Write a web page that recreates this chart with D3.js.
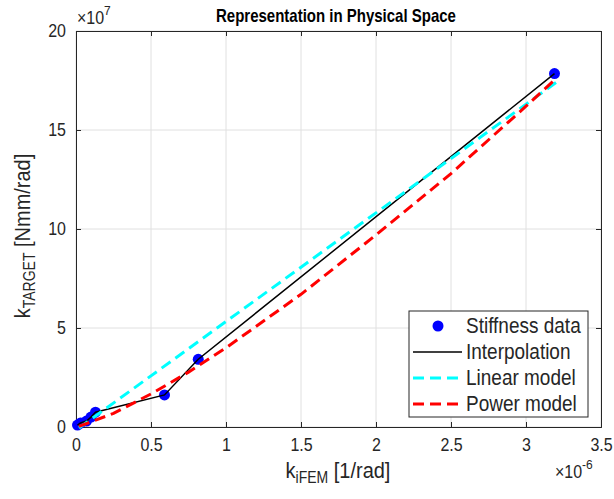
<!DOCTYPE html>
<html lang="en">
<head>
<meta charset="UTF-8">
<title>Representation in Physical Space</title>
<script src="https://d3js.org/d3.v7.min.js"></script>
<style>
  body { margin: 0; background: #fff; }
  text { font-family: "Liberation Sans", Arial, sans-serif; fill: #262626; }
  /* the figure was stretched a bit vertically, so text is taller than wide */
  .tall { transform-box: fill-box; transform-origin: center; transform: scaleY(1.12); }
  .tallt { transform-box: fill-box; transform-origin: center; transform: scaleY(1.22); }
  .tallx { transform-box: fill-box; transform-origin: center; transform: scaleX(1.12); }
</style>
</head>
<body>
<script>
// data (x in 1e-6 1/rad, y in 1e7 Nmm/rad)
var dataX = [0.01, 0.03, 0.07, 0.10, 0.13, 0.59, 0.815, 3.19];
var dataY = [0.10, 0.20, 0.30, 0.50, 0.75, 1.62, 3.42, 17.85];
var linX = [0.02, 3.2];
var linY = [-0.05, 17.4];
var powX = [0.02, 0.25, 0.5, 0.75, 1.0, 1.5, 2.0, 2.5, 3.0, 3.2];
var powY = [0.03, 0.69, 1.67, 2.77, 4.0, 6.7, 9.7, 12.8, 16.2, 17.6];
var xTicks = [0, 0.5, 1, 1.5, 2, 2.5, 3, 3.5];
var yTicks = [0, 5, 10, 15, 20];
var legNames = ['Stiffness data', 'Interpolation', 'Linear model', 'Power model'];

var width = 614, height = 499;
var pL = 76, pR = 601, pT = 31, pB = 427;

var svg = d3.select('body').append('svg').attr('width', width).attr('height', height);

var x = d3.scaleLinear().domain([0, 3.5]).range([pL, pR]);
var y = d3.scaleLinear().domain([0, 20]).range([pB, pT]);

// grid
svg.append('g').selectAll('line').data(xTicks).join('line')
    .attr('x1', d => x(d)).attr('x2', d => x(d)).attr('y1', pT).attr('y2', pB)
    .attr('stroke', '#e0e0e0').attr('stroke-width', 1);
svg.append('g').selectAll('line').data(yTicks).join('line')
    .attr('y1', d => y(d)).attr('y2', d => y(d)).attr('x1', pL).attr('x2', pR)
    .attr('stroke', '#e0e0e0').attr('stroke-width', 1);

// axes, ticks inside like matlab
var xAxis = svg.append('g').attr('transform', 'translate(0,' + pB + ')')
    .call(d3.axisBottom(x).tickValues(xTicks).tickSize(-5).tickPadding(12).tickFormat(d3.format('~g')));
var xAxisTop = svg.append('g').attr('transform', 'translate(0,' + pT + ')')
    .call(d3.axisTop(x).tickValues(xTicks).tickSize(-5).tickFormat(''));
var yAxis = svg.append('g').attr('transform', 'translate(' + pL + ',0)')
    .call(d3.axisLeft(y).tickValues(yTicks).tickSize(-5).tickPadding(10));
var yAxisRight = svg.append('g').attr('transform', 'translate(' + pR + ',0)')
    .call(d3.axisRight(y).tickValues(yTicks).tickSize(-5).tickFormat(''));

[xAxis, xAxisTop, yAxis, yAxisRight].forEach(function (g) {
    g.select('.domain').attr('stroke', '#262626').attr('stroke-width', 1);
    g.selectAll('.tick line').attr('stroke', '#262626');
    g.selectAll('.tick text').attr('font-size', 16).attr('fill', '#262626').attr('class', 'tall')
        .attr('font-family', '"Liberation Sans", Arial, sans-serif');
});

// series
var pts = dataX.map((d, i) => [d, dataY[i]]);
var line = d3.line().x(d => x(d[0])).y(d => y(d[1]));

svg.append('g').selectAll('circle').data(pts).join('circle')
    .attr('cx', d => x(d[0])).attr('cy', d => y(d[1])).attr('r', 5.5)
    .attr('fill', '#0000ff');

svg.append('path').datum(pts).attr('d', line)
    .attr('fill', 'none').attr('stroke', '#000').attr('stroke-width', 1.5);

svg.append('path').datum(linX.map((d, i) => [d, linY[i]])).attr('d', line)
    .attr('fill', 'none').attr('stroke', '#00ffff').attr('stroke-width', 3)
    .attr('stroke-dasharray', '11,6');

svg.append('path').datum(powX.map((d, i) => [d, powY[i]])).attr('d', line)
    .attr('fill', 'none').attr('stroke', '#ff0000').attr('stroke-width', 3)
    .attr('stroke-dasharray', '11,6');

// exponents
var e7 = svg.append('text').attr('x', 77).attr('y', 23).attr('font-size', 16).attr('class', 'tall');
e7.append('tspan').text('\u00d710');
e7.append('tspan').attr('dy', -8).attr('font-size', 12).text('7');
var e6 = svg.append('text').attr('x', 555).attr('y', 477).attr('font-size', 16).attr('class', 'tall');
e6.append('tspan').text('\u00d710');
e6.append('tspan').attr('dy', -8).attr('font-size', 12).text('-6');

// title
svg.append('text').attr('x', 336).attr('y', 21).attr('class', 'tallt')
    .attr('text-anchor', 'middle').attr('font-size', 15).attr('font-weight', 'bold')
    .style('fill', '#000').text('Representation in Physical Space');

// axis labels
var xl = svg.append('text').attr('x', 338).attr('y', 477).attr('class', 'tall')
    .attr('text-anchor', 'middle').attr('font-size', 20);
xl.append('tspan').text('k');
xl.append('tspan').attr('dy', 5).attr('font-size', 14).text('iFEM');
xl.append('tspan').attr('dy', -5).text(' [1/rad]');

var yl = svg.append('g').attr('transform', 'translate(29,' + 236 + ') rotate(-90)')
    .append('text').attr('class', 'tall')
    .attr('text-anchor', 'middle').attr('font-size', 20);
yl.append('tspan').text('k');
yl.append('tspan').attr('dy', 5).attr('font-size', 14).text('TARGET');
yl.append('tspan').attr('dy', -5).text(' [Nmm/rad]');

// legend
var leg = svg.append('g');
leg.append('rect').attr('x', 409).attr('y', 311).attr('width', 179).attr('height', 106)
    .attr('fill', '#fff').attr('stroke', '#262626').attr('stroke-width', 1);
legNames.forEach(function (n, i) {
    var ly = 326 + i * 26;
    if (i === 0) {
        leg.append('circle').attr('cx', 438).attr('cy', ly).attr('r', 5.5).attr('fill', '#0000ff');
    } else {
        var c = ['#000', '#00ffff', '#ff0000'][i - 1];
        leg.append('line').attr('x1', 413).attr('x2', 462).attr('y1', ly).attr('y2', ly)
            .attr('stroke', c).attr('stroke-width', i === 1 ? 1.5 : 3)
            .attr('stroke-dasharray', i === 1 ? null : '11,6');
    }
    leg.append('text').attr('x', 466).attr('y', ly + 6).attr('font-size', 19).attr('class', 'tall').text(n);
});
</script>
</body>
</html>
